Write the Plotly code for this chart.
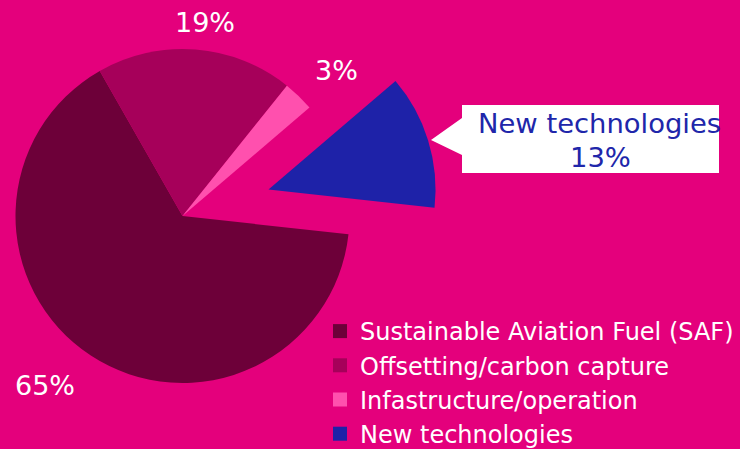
import math
import plotly.graph_objects as go

# Share of the emissions-reduction effort by lever (%)
categories = [
    "Sustainable Aviation Fuel (SAF)",
    "Offsetting/carbon capture",
    "Infastructure/operation",
    "New technologies",
]
shares = [65, 19, 3, 13]
colors = ["#6D0039", "#A6005A", "#FF50AE", "#1E22A8"]
exploded = 3  # index of the slice pulled out of the pie

W, H = 740, 449
BG = "#E4007C"
FONT = "DejaVu Sans"
TRANSPARENT = "rgba(0,0,0,0)"

# Pie geometry in pixels
cx, cy, R = 182.5, 216.0, 167.0
start_angle = 96.3  # degrees clockwise from 12 o'clock where the first slice starts
pull_px = 90.0


def px_x(x):
    return x / W


def px_y(y):
    return 1 - y / H


def pie_domain(x0, y0):
    return dict(x=[px_x(x0 - R), px_x(x0 + R)], y=[px_y(y0 + R), px_y(y0 - R)])


total = sum(shares)
mid_angle = start_angle + 360 * (sum(shares[:exploded]) + shares[exploded] / 2) / total
dx = pull_px * math.sin(math.radians(mid_angle))
dy = -pull_px * math.cos(math.radians(mid_angle))

main_colors = [TRANSPARENT if i == exploded else c for i, c in enumerate(colors)]
pulled_colors = [c if i == exploded else TRANSPARENT for i, c in enumerate(colors)]

fig = go.Figure()

common = dict(
    labels=categories,
    values=shares,
    sort=False,
    direction="clockwise",
    rotation=start_angle,
    textinfo="none",
    showlegend=False,
    hoverinfo="label+percent",
)

# Main pie with the exploded slice left empty
fig.add_trace(go.Pie(
    domain=pie_domain(cx, cy),
    marker=dict(colors=main_colors, line=dict(width=0)),
    **common,
))
# Same pie shifted along the slice's bisector, showing only the exploded slice
fig.add_trace(go.Pie(
    domain=pie_domain(cx + dx, cy + dy),
    marker=dict(colors=pulled_colors, line=dict(width=0)),
    **common,
))

# Legend entries
for name, c in zip(categories, colors):
    fig.add_trace(go.Scatter(
        x=[None], y=[None], mode="markers", name=name,
        marker=dict(symbol="square", size=14, color=c, line=dict(width=0)),
        hoverinfo="skip",
    ))

# Percentage labels around the pie
label_pos = {0: (45, 385), 1: (204.5, 23), 2: (336.5, 70)}
annotations = []
for i, (x, y) in label_pos.items():
    annotations.append(dict(
        x=px_x(x), y=px_y(y), xref="paper", yref="paper",
        text=f"{shares[i]}%", showarrow=False,
        xanchor="center", yanchor="middle",
        font=dict(family=FONT, size=27, color="white"),
    ))

# Callout for the exploded slice
callout_font = dict(family=FONT, size=27.4, color="#2026AA")
annotations.append(dict(
    x=px_x(599), y=px_y(124), xref="paper", yref="paper",
    text=categories[exploded], showarrow=False,
    xanchor="center", yanchor="middle", font=callout_font,
))
annotations.append(dict(
    x=px_x(600), y=px_y(157), xref="paper", yref="paper",
    text=f"{shares[exploded]}%", showarrow=False,
    xanchor="center", yanchor="middle", font=callout_font,
))

box = [(462, 105), (719, 105), (719, 173), (462, 173), (462, 155), (431, 140), (462, 118)]
path = "M " + " L ".join(f"{px_x(x):.5f},{px_y(y):.5f}" for x, y in box) + " Z"

fig.update_layout(
    width=W, height=H,
    margin=dict(l=0, r=0, t=0, b=0, autoexpand=False),
    paper_bgcolor=BG, plot_bgcolor=BG,
    xaxis=dict(visible=False),
    yaxis=dict(visible=False),
    showlegend=True,
    legend=dict(
        x=px_x(320), y=px_y(309), xanchor="left", yanchor="top",
        bgcolor="rgba(0,0,0,0)", borderwidth=0,
        font=dict(family=FONT, size=24, color="white"),
        traceorder="normal",
    ),
    shapes=[dict(type="path", path=path, xref="paper", yref="paper",
                 fillcolor="white", line=dict(width=0), layer="below")],
    annotations=annotations,
)

fig.write_html("out.html")
